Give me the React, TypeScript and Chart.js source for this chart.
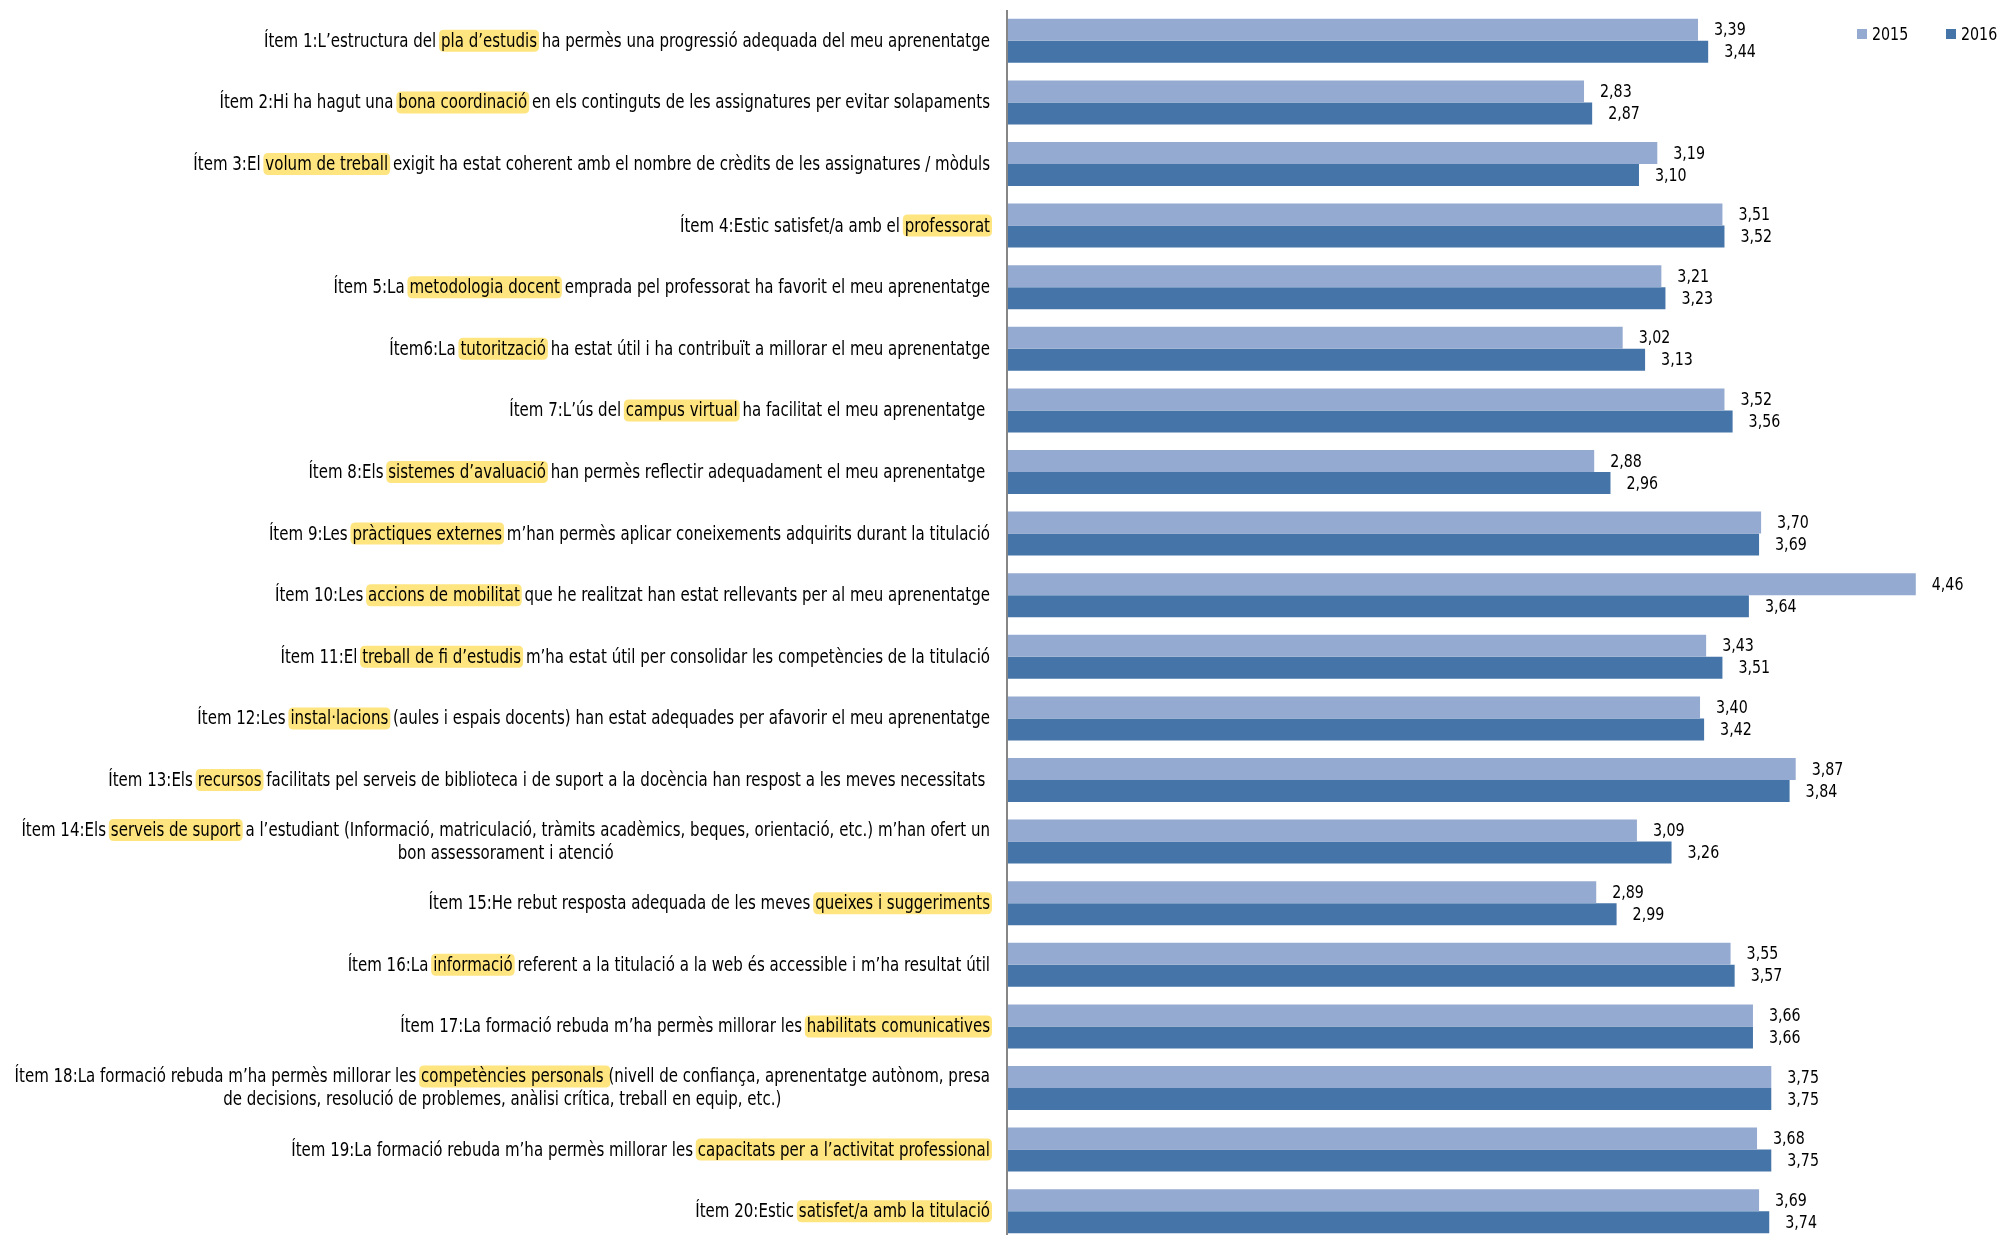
import React, { useEffect, useRef } from "react";
import { Chart, registerables } from "chart.js";

Chart.register(...registerables);

// Category labels: each entry is a list of lines; text in [brackets] is highlighted
const categories: string[][] = [
  ["Ítem 1:L’estructura del [pla d’estudis] ha permès una progressió adequada del meu aprenentatge"],
  ["Ítem 2:Hi ha hagut una [bona coordinació] en els continguts de les assignatures per evitar solapaments"],
  ["Ítem 3:El [volum de treball] exigit ha estat coherent amb el nombre de crèdits de les assignatures / mòduls"],
  ["Ítem 4:Estic satisfet/a amb el [professorat]"],
  ["Ítem 5:La [metodologia docent] emprada pel professorat ha favorit el meu aprenentatge"],
  ["Ítem6:La [tutorització] ha estat útil i ha contribuït a millorar el meu aprenentatge"],
  ["Ítem 7:L’ús del [campus virtual] ha facilitat el meu aprenentatge "],
  ["Ítem 8:Els [sistemes d’avaluació] han permès reflectir adequadament el meu aprenentatge "],
  ["Ítem 9:Les [pràctiques externes] m’han permès aplicar coneixements adquirits durant la titulació"],
  ["Ítem 10:Les [accions de mobilitat] que he realitzat han estat rellevants per al meu aprenentatge"],
  ["Ítem 11:El [treball de fi d’estudis] m’ha estat útil per consolidar les competències de la titulació"],
  ["Ítem 12:Les [instal·lacions] (aules i espais docents) han estat adequades per afavorir el meu aprenentatge"],
  ["Ítem 13:Els [recursos] facilitats pel serveis de biblioteca i de suport a la docència han respost a les meves necessitats "],
  [
    "Ítem 14:Els [serveis de suport] a l’estudiant (Informació, matriculació, tràmits acadèmics, beques, orientació, etc.) m’han ofert un",
    "bon assessorament i atenció",
  ],
  ["Ítem 15:He rebut resposta adequada de les meves [queixes i suggeriments]"],
  ["Ítem 16:La [informació] referent a la titulació a la web és accessible i m’ha resultat útil"],
  ["Ítem 17:La formació rebuda m’ha permès millorar les [habilitats comunicatives]"],
  [
    "Ítem 18:La formació rebuda m’ha permès millorar les [competències personals ](nivell de confiança, aprenentatge autònom, presa",
    "de decisions, resolució de problemes, anàlisi crítica, treball en equip, etc.)",
  ],
  ["Ítem 19:La formació rebuda m’ha permès millorar les [capacitats per a l’activitat professional]"],
  ["Ítem 20:Estic [satisfet/a amb la titulació]"],
];

const seriesNames: string[] = ["2015", "2016"];

const values2015: number[] = [
  3.39, 2.83, 3.19, 3.51, 3.21, 3.02, 3.52, 2.88, 3.7, 4.46,
  3.43, 3.4, 3.87, 3.09, 2.89, 3.55, 3.66, 3.75, 3.68, 3.69,
];

const values2016: number[] = [
  3.44, 2.87, 3.1, 3.52, 3.23, 3.13, 3.56, 2.96, 3.69, 3.64,
  3.51, 3.42, 3.84, 3.26, 2.99, 3.57, 3.66, 3.75, 3.75, 3.74,
];

const COLOR_2015 = "#95AAD1";
const COLOR_2016 = "#4574A8";
const AXIS_COLOR = "#868686";
const HIGHLIGHT = "#FFE57F";
const FONT = '"Liberation Sans Narrow", "Arial Narrow", "DejaVu Sans Condensed", sans-serif';
const LABEL_SIZE = 19;
const VALUE_SIZE = 18;
const ITEM1_TARGET_WIDTH = 726; // rendered width of the first label line in the reference

type Seg = { text: string; hl: boolean };

function parseLine(line: string): Seg[] {
  const segs: Seg[] = [];
  const re = /\[([^\]]*)\]/g;
  let last = 0;
  let m: RegExpExecArray | null;
  while ((m = re.exec(line)) !== null) {
    if (m.index > last) segs.push({ text: line.slice(last, m.index), hl: false });
    segs.push({ text: m[1], hl: true });
    last = m.index + m[0].length;
  }
  if (last < line.length) segs.push({ text: line.slice(last), hl: false });
  return segs;
}

function roundRect(ctx: CanvasRenderingContext2D, x: number, y: number, w: number, h: number, r: number) {
  ctx.beginPath();
  ctx.moveTo(x + r, y);
  ctx.lineTo(x + w - r, y);
  ctx.quadraticCurveTo(x + w, y, x + w, y + r);
  ctx.lineTo(x + w, y + h - r);
  ctx.quadraticCurveTo(x + w, y + h, x + w - r, y + h);
  ctx.lineTo(x + r, y + h);
  ctx.quadraticCurveTo(x, y + h, x, y + h - r);
  ctx.lineTo(x, y + r);
  ctx.quadraticCurveTo(x, y, x + r, y);
  ctx.closePath();
}

const decorPlugin = {
  id: "decor",
  afterDraw(chart: any) {
    const ctx: CanvasRenderingContext2D = chart.ctx;
    const area = chart.chartArea;
    const yScale = chart.scales.y;
    ctx.save();

    // vertical axis line
    ctx.strokeStyle = AXIS_COLOR;
    ctx.lineWidth = 2;
    ctx.beginPath();
    ctx.moveTo(area.left - 1, area.top);
    ctx.lineTo(area.left - 1, chart.height);
    ctx.stroke();

    ctx.font = `${LABEL_SIZE}px ${FONT}`;
    ctx.textBaseline = "middle";
    ctx.textAlign = "left";
    const rawItem1 = ctx.measureText(categories[0][0].replace(/[\[\]]/g, "")).width;
    const sx = ITEM1_TARGET_WIDTH / rawItem1;
    const mw = (t: string) => ctx.measureText(t).width * sx;
    const drawT = (t: string, x: number, y: number) => {
      ctx.save();
      ctx.translate(x, y);
      ctx.scale(sx, 1);
      ctx.fillText(t, 0, 0);
      ctx.restore();
    };

    // category labels with highlights
    const rightX = area.left - 18;
    const lineH = 23;
    categories.forEach((lines, i) => {
      const cy = yScale.getPixelForValue(i);
      const parsed = lines.map(parseLine);
      const widths = parsed.map((segs) => segs.reduce((s, sg) => s + mw(sg.text), 0));
      const maxW = Math.max(...widths);
      const startY = cy - ((lines.length - 1) * lineH) / 2;
      parsed.forEach((segs, li) => {
        let x = rightX - maxW + (maxW - widths[li]) / 2;
        const ly = startY + li * lineH;
        segs.forEach((sg) => {
          const w = mw(sg.text);
          if (sg.hl) {
            ctx.fillStyle = HIGHLIGHT;
            roundRect(ctx, x - 2, ly - 11, w + 4, 22, 5);
            ctx.fill();
          }
          ctx.fillStyle = "#000000";
          drawT(sg.text, x, ly + 1);
          x += w;
        });
      });
    });

    // value labels
    ctx.font = `${VALUE_SIZE}px ${FONT}`;
    chart.data.datasets.forEach((ds: any, di: number) => {
      const meta = chart.getDatasetMeta(di);
      meta.data.forEach((el: any, j: number) => {
        const v = ds.data[j] as number;
        ctx.fillStyle = "#000000";
        drawT(v.toFixed(2).replace(".", ","), el.x + 16, el.y + 1);
      });
    });

    // legend
    let lx = 1857;
    const ly = 34;
    chart.data.datasets.forEach((ds: any) => {
      ctx.fillStyle = ds.backgroundColor;
      ctx.fillRect(lx, ly - 5, 10, 10);
      ctx.fillStyle = "#000000";
      drawT(ds.label, lx + 15, ly + 1);
      lx += 89;
    });

    ctx.restore();
  },
};

export default function App() {
  const canvasRef = useRef<HTMLCanvasElement | null>(null);

  useEffect(() => {
    if (!canvasRef.current) return;
    const chart = new Chart(canvasRef.current, {
      type: "bar",
      data: {
        labels: categories.map((c) => c.join(" ")),
        datasets: [
          {
            label: seriesNames[0],
            data: values2015,
            backgroundColor: COLOR_2015,
            borderWidth: 0,
            categoryPercentage: 0.714,
            barPercentage: 1,
          },
          {
            label: seriesNames[1],
            data: values2016,
            backgroundColor: COLOR_2016,
            borderWidth: 0,
            categoryPercentage: 0.714,
            barPercentage: 1,
          },
        ],
      },
      options: {
        indexAxis: "y",
        responsive: false,
        maintainAspectRatio: false,
        animation: false,
        devicePixelRatio: 1,
        layout: { padding: { left: 1008, right: 16, top: 10, bottom: 1 } },
        plugins: {
          legend: { display: false },
          tooltip: { enabled: false },
        },
        scales: {
          x: { display: false, min: 0, max: 4.8 },
          y: { display: false },
        },
      },
      plugins: [decorPlugin],
    });
    return () => chart.destroy();
  }, []);

  return (
    <div
      style={{
        position: "fixed",
        left: 0,
        top: 0,
        width: 2001,
        height: 1235,
        overflow: "hidden",
        background: "#ffffff",
      }}
    >
      <canvas ref={canvasRef} width={2001} height={1243} style={{ display: "block" }} />
    </div>
  );
}
